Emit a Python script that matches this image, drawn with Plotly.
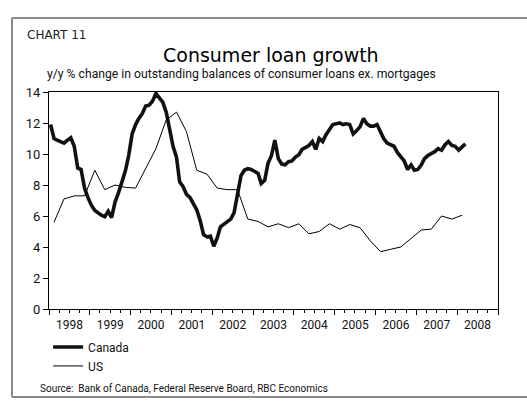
import pandas as pd
import plotly.graph_objects as go

# Year-over-year % change in consumer loans ex. mortgages
# Canada: monthly, Jan 1998 onward
canada = [
    11.9, 11.0, 10.9, 10.8, 10.7, 10.9, 11.05, 10.5, 9.1, 9.0, 7.8, 7.2,      # 1998
    6.7, 6.35, 6.2, 6.05, 5.95, 6.3, 5.9, 6.9, 7.5, 8.2, 8.9, 9.9,             # 1999
    11.3, 11.9, 12.3, 12.6, 13.1, 13.15, 13.4, 13.9, 13.6, 13.35, 12.7, 11.6,  # 2000
    10.5, 9.8, 8.2, 7.9, 7.4, 7.2, 6.8, 6.4, 5.7, 4.8, 4.65, 4.7,              # 2001
    4.05, 4.6, 5.3, 5.45, 5.6, 5.8, 6.2, 7.3, 8.6, 8.95, 9.05, 9.0,            # 2002
    8.9, 8.75, 8.1, 8.3, 9.4, 9.9, 10.9, 9.7, 9.35, 9.3, 9.5, 9.55,            # 2003
    9.8, 9.95, 10.3, 10.45, 10.55, 10.8, 10.3, 11.0, 10.8, 11.25, 11.6, 11.9,  # 2004
    11.95, 12.0, 11.9, 11.95, 11.9, 11.3, 11.5, 11.75, 12.3, 11.95, 11.8, 11.8,  # 2005
    11.9, 11.4, 11.0, 10.7, 10.6, 10.5, 10.1, 9.8, 9.55, 9.0, 9.3, 8.95,       # 2006
    9.0, 9.3, 9.7, 9.9, 10.0, 10.15, 10.35, 10.25, 10.6, 10.8, 10.55, 10.5,    # 2007
    10.25, 10.5, 10.65,                                                        # 2008
]
# US: quarterly, Q1 1998 onward
us = [
    5.6, 7.1, 7.3, 7.3,
    8.95, 7.7, 8.0, 7.85,
    7.8, 9.1, 10.35, 12.2,
    12.7, 11.45, 8.95, 8.7,
    7.8, 7.7, 7.7, 5.8,
    5.65, 5.3, 5.5, 5.25,
    5.5, 4.85, 5.0, 5.5,
    5.15, 5.45, 5.25, 4.4,
    3.7, 3.85, 4.0, 4.55,
    5.1, 5.15, 6.0, 5.8,
    6.05,
]
y_ticks = [0, 2, 4, 6, 8, 10, 12, 14]

canada_dates = pd.date_range("1998-01-01", periods=len(canada), freq="MS") + pd.Timedelta(days=14)
us_dates = pd.date_range("1998-02-01", periods=len(us), freq="3MS") + pd.Timedelta(days=14)

NARROW = "Roboto, sans-serif"

fig = go.Figure()
fig.add_trace(go.Scatter(
    x=canada_dates, y=canada, name="Canada", mode="lines",
    line=dict(color="#111111", width=3.6),
))
fig.add_trace(go.Scatter(
    x=us_dates, y=us, name="US", mode="lines",
    line=dict(color="#000000", width=1),
))

fig.update_layout(
    width=527, height=402,
    margin=dict(l=49, r=29, t=92, b=93),
    paper_bgcolor="white", plot_bgcolor="white",
    font=dict(family=NARROW, size=12, color="#111111"),
    showlegend=True,
    legend=dict(
        x=-0.002, y=-0.108, xanchor="left", yanchor="top",
        bgcolor="rgba(0,0,0,0)", font=dict(size=12, family=NARROW),
        tracegroupgap=0,
    ),
    xaxis=dict(
        type="date",
        range=["1998-01-01", "2009-01-01"],
        tick0="1998-01-01", dtick="M12",
        ticklabelmode="period", tickformat="%Y",
        ticks="outside", ticklen=5, tickcolor="#000",
        minor=dict(dtick="M3", ticks="outside", ticklen=3, tickcolor="#000"),
        showgrid=False, showline=True, linecolor="#000", linewidth=1,
        mirror=True, zeroline=False,
        tickfont=dict(size=12, family=NARROW),
    ),
    yaxis=dict(
        range=[0, 14], tickvals=y_ticks,
        ticks="outside", ticklen=5, tickcolor="#000",
        showgrid=False, showline=True, linecolor="#000", linewidth=1,
        mirror=True, zeroline=False,
        tickfont=dict(size=13, family=NARROW),
    ),
)

# Outer frame: top, left and bottom rules (open on the right)
frame = dict(color="#8a8a8a", width=2)
fig.add_shape(type="line", xref="paper", yref="paper",
              x0=-0.0824, x1=1.2, y0=1.341, y1=1.341, line=frame)
fig.add_shape(type="line", xref="paper", yref="paper",
              x0=-0.0824, x1=-0.0824, y0=-0.406, y1=1.341, line=frame)
fig.add_shape(type="line", xref="paper", yref="paper",
              x0=-0.0824, x1=1.2, y0=-0.406, y1=-0.406, line=frame)

fig.add_annotation(
    text="CHART 11", xref="paper", yref="paper", x=-0.054, y=1.263,
    xanchor="left", yanchor="middle", showarrow=False,
    font=dict(family="DejaVu Sans", size=12, color="#222"),
)
fig.add_annotation(
    text="Consumer loan growth", xref="paper", yref="paper", x=0.494, y=1.171,
    xanchor="center", yanchor="middle", showarrow=False,
    font=dict(family="DejaVu Sans", size=19, color="#000"),
)
fig.add_annotation(
    text="y/y % change in outstanding balances of consumer loans ex. mortgages",
    xref="paper", yref="paper", x=-0.009, y=1.085,
    xanchor="left", yanchor="middle", showarrow=False,
    font=dict(family=NARROW, size=12.2, color="#111"),
)
fig.add_annotation(
    text="Source:  Bank of Canada, Federal Reserve Board, RBC Economics",
    xref="paper", yref="paper", x=-0.025, y=-0.366,
    xanchor="left", yanchor="middle", showarrow=False,
    font=dict(family=NARROW, size=10, color="#111"),
)

fig.write_html("out.html")
